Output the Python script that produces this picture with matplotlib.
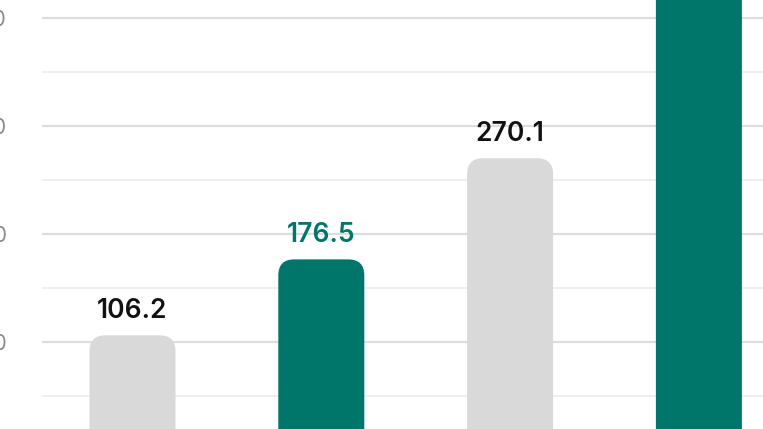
import matplotlib
matplotlib.use("Agg")
import matplotlib.pyplot as plt
from matplotlib.patches import FancyBboxPatch
from matplotlib.ticker import MultipleLocator

categories = ["1", "2", "3", "4"]
values = [106.2, 176.5, 270.1, 450.0]
bar_colors = ["#D9D9D9", "#00756A", "#D9D9D9", "#00756A"]
label_colors = ["#111111", "#00756A", "#111111", "#00756A"]

W, H, DPI = 763, 429, 100
fig = plt.figure(figsize=(W / DPI, H / DPI), dpi=DPI)
left_px = 42
ax = fig.add_axes([left_px / W, 0, (W - left_px) / W, 1])

# scales (pixel mapping of visible crop)
x0_px, dx_px = 132.5, 188.8
y0_px, dy_px = 450.0, 1.08
ax.set_xlim((left_px - x0_px) / dx_px, (W - x0_px) / dx_px)
ax.set_ylim((y0_px - H) / dy_px, y0_px / dy_px)

xs = list(range(len(categories)))
width = 86 / dx_px
bars = ax.bar(xs, values, width=width, color=bar_colors, zorder=2)

# rounded tops
radius_px = 16
aspect = dx_px / dy_px
for b, c in zip(bars, bar_colors):
    x, y = b.get_x(), b.get_y()
    w, h = b.get_width(), b.get_height()
    b.set_visible(False)
    p = FancyBboxPatch((x, y - 100), w, h + 100,
                       boxstyle=f"round,pad=0,rounding_size={radius_px / dx_px}",
                       mutation_aspect=aspect, facecolor=c, edgecolor="none", zorder=2)
    ax.add_patch(p)

fam = ["Inter", "DejaVu Sans"]
for x, v, lc in zip(xs, values, label_colors):
    ax.annotate(f"{v:.1f}", (x, v), xytext=(0, 17 * 72 / DPI), textcoords="offset points",
                ha="center", va="baseline", fontsize=19, fontweight="semibold",
                color=lc, family=fam)

ax.yaxis.set_major_locator(MultipleLocator(100))
ax.yaxis.set_minor_locator(MultipleLocator(50))
ax.grid(axis="y", which="major", color="#DDDDDD", linewidth=1.6, zorder=0)
ax.grid(axis="y", which="minor", color="#EBEBEB", linewidth=1.1, zorder=0)
ax.set_axisbelow(True)
ax.tick_params(axis="y", which="both", length=0, pad=35 * 72 / DPI, labelsize=15,
               labelcolor="#8A8A8A")
ax.tick_params(axis="x", which="both", length=0, labelbottom=False)
for lab in ax.get_yticklabels():
    lab.set_family(fam)
ax.set_xticks(xs)
ax.set_xticklabels(categories)
for s in ax.spines.values():
    s.set_visible(False)

fig.savefig("out.png", dpi=DPI)
